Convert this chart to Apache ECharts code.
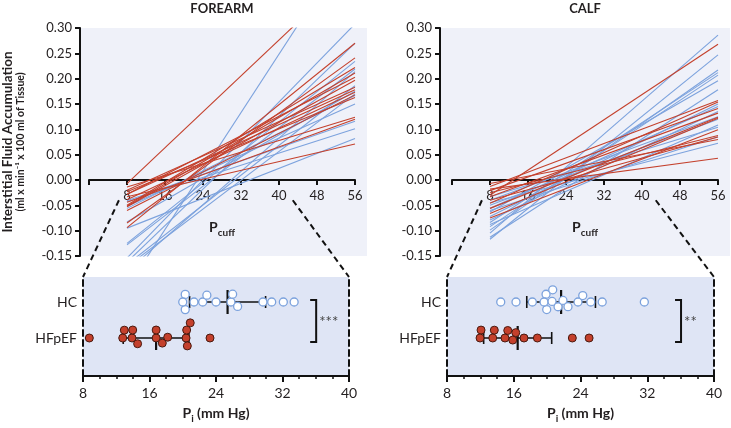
<!DOCTYPE html>
<html>
<head>
<meta charset="utf-8">
<script src="https://cdn.jsdelivr.net/npm/echarts@6/dist/echarts.min.js"></script>
<style>
html,body{margin:0;padding:0;background:#fff}
#chart{width:731px;height:428px}
</style>
</head>
<body>
<div id="chart"></div>
<script>
// regression lines: value at P=8 and at P=56
var lineX = [8, 56];

var faHcStart = [-0.213, -0.154, -0.162, -0.125, -0.128, -0.180, -0.167, -0.171, -0.056, -0.052, -0.041, -0.083, -0.043, -0.095];
var faHcEnd   = [0.479, 0.308, 0.270, 0.234, 0.219, 0.214, 0.186, 0.170, 0.167, 0.150, 0.116, 0.175, 0.101, 0.082];
var faHfStart = [-0.007, -0.020, -0.014, -0.028, -0.023, -0.028, -0.039, -0.050, -0.052, -0.053, -0.094, -0.085, -0.060, -0.044, -0.033];
var faHfEnd   = [0.418, 0.183, 0.124, 0.203, 0.163, 0.178, 0.173, 0.222, 0.211, 0.197, 0.270, 0.241, 0.168, 0.120, 0.071];

var cfHcStart = [-0.105, -0.117, -0.099, -0.084, -0.092, -0.063, -0.113, -0.072, -0.056, -0.079, -0.040, -0.050, -0.088, -0.033, -0.060, -0.045];
var cfHcEnd   = [0.286, 0.247, 0.217, 0.212, 0.207, 0.196, 0.178, 0.150, 0.145, 0.135, 0.125, 0.120, 0.1085, 0.104, 0.0855, 0.0724];
var cfHfStart = [-0.030, -0.013, -0.046, -0.021, -0.033, -0.056, -0.066, -0.075, -0.025, -0.040, -0.007, -0.018];
var cfHfEnd   = [0.268, 0.157, 0.154, 0.141, 0.132, 0.124, 0.122, 0.099, 0.088, 0.085, 0.080, 0.043];

// Pi (mm Hg) per subject
var faHcPi = [20.3, 20.3, 20.0, 21.35, 22.4, 22.9, 24.0, 25.8, 26.0, 26.6, 29.65, 30.7, 32.1, 33.4];
var faHfPi = [8.76, 12.78, 12.97, 13.9, 13.98, 14.57, 16.8, 16.8, 17.54, 18.19, 20.4, 20.47, 20.55, 20.9, 23.28];
var cfHcPi = [14.44, 16.27, 18.23, 19.87, 19.95, 19.63, 20.59, 20.67, 21.31, 21.9, 22.5, 23.7, 24.27, 25.23, 26.6, 31.65];
var cfHfPi = [12.08, 13.67, 15.28, 16.24, 17.23, 18.83, 23.02, 25.03, 11.96, 13.48, 14.95, 15.88];

var groupNames = ['HFpEF', 'HC'];
var faStars = '***';
var cfStars = '**';

var RED = '#c4402c', BLUE = '#7ca2dd', INK = '#231f20';
var FONT = 'Lato';
var ROW_PX = 36;
var DOT_MIN = -38 / ROW_PX, DOT_MAX = 1 + 25 / ROW_PX;
var PX_PER_UNIT = 266 / 32;
var DOT = 8;

var dom = document.getElementById('chart');
var myChart = echarts.init(dom);

// simple beeswarm: offsets (px) so dots don't overlap
function swarm(vals){
    var placed = [];
    var offs = [];
    var order = vals.map(function(v, i){ return i; }).sort(function(a, b){ return vals[a] - vals[b]; });
    order.forEach(function(i){
        var x = vals[i] * PX_PER_UNIT;
        var cands = [0];
        placed.forEach(function(p){
            var dx = x - p.x;
            if(Math.abs(dx) < DOT){
                var h = Math.sqrt(DOT * DOT - dx * dx);
                cands.push(p.y - h, p.y + h);
            }
        });
        cands.sort(function(a, b){ return Math.abs(a) - Math.abs(b) || a - b; });
        var y = 0;
        for(var k = 0; k < cands.length; k++){
            var ok = placed.every(function(p){
                var dx = x - p.x, dy = cands[k] - p.y;
                return dx * dx + dy * dy >= DOT * DOT - 0.01;
            });
            if(ok){ y = cands[k]; break; }
        }
        placed.push({x: x, y: y});
        offs[i] = y;
    });
    return offs;
}

function dotData(vals, row){
    var offs = swarm(vals);
    return vals.map(function(v, i){ return [v, row - offs[i] / ROW_PX]; });
}

function stats(vals){
    var n = vals.length;
    var m = vals.reduce(function(a, b){ return a + b; }, 0) / n;
    var ss = vals.reduce(function(a, v){ return a + (v - m) * (v - m); }, 0);
    return [m, Math.sqrt(ss / (n - 1))];
}

function lineSeries(starts, ends, color, idx){
    return starts.map(function(s, i){
        return {
            type: 'line',
            xAxisIndex: idx, yAxisIndex: idx,
            data: [[lineX[0], s], [lineX[1], ends[i]]],
            symbol: 'none',
            silent: true,
            clip: true,
            lineStyle: {color: color, width: 1.1}
        };
    });
}

function statSeries(hc, hf, idx){
    var a = stats(hf), b = stats(hc);
    return {
        type: 'custom',
        xAxisIndex: idx, yAxisIndex: idx,
        z: 2,
        silent: true,
        data: [[a[0], a[1], 0], [b[0], b[1], 1]],
        renderItem: function(params, api){
            var m = api.value(0), sd = api.value(1), r = api.value(2);
            var c = api.coord([m, r]);
            var l = api.coord([m - sd, r]);
            var rr = api.coord([m + sd, r]);
            var st = {stroke: '#111', lineWidth: 1.6};
            return {
                type: 'group',
                children: [
                    {type: 'line', shape: {x1: l[0], y1: c[1], x2: rr[0], y2: c[1]}, style: st},
                    {type: 'line', shape: {x1: l[0], y1: c[1] - 6, x2: l[0], y2: c[1] + 6}, style: st},
                    {type: 'line', shape: {x1: rr[0], y1: c[1] - 6, x2: rr[0], y2: c[1] + 6}, style: st},
                    {type: 'line', shape: {x1: c[0], y1: c[1] - 12, x2: c[0], y2: c[1] + 12}, style: {stroke: '#111', lineWidth: 2.2}}
                ]
            };
        }
    };
}

function bracketSeries(stars, idx){
    return {
        type: 'custom',
        xAxisIndex: idx, yAxisIndex: idx,
        silent: true,
        z: 4,
        data: [[36.05]],
        renderItem: function(params, api){
            var bx = api.value(0);
            var t = api.coord([bx, 1]), b = api.coord([bx, 0]);
            var x = t[0], y1 = t[1] - 2, y2 = b[1] + 4;
            return {
                type: 'group',
                children: [
                    {type: 'polyline', shape: {points: [[x - 6, y1], [x, y1], [x, y2], [x - 6, y2]]},
                     style: {stroke: '#111', lineWidth: 2, fill: null}},
                    {type: 'text', x: x + 3, y: (y1 + y2) / 2 + 1,
                     style: {text: stars, fill: '#444', fontSize: 15, fontFamily: FONT, align: 'left', verticalAlign: 'middle'}}
                ]
            };
        }
    };
}

function dotSeries(hc, hf, idx){
    return [{
        type: 'scatter', xAxisIndex: idx, yAxisIndex: idx, z: 3, silent: true,
        symbol: 'circle', symbolSize: DOT,
        itemStyle: {color: '#fff', borderColor: BLUE, borderWidth: 1.3, opacity: 1},
        data: dotData(hc, 1)
    }, {
        type: 'scatter', xAxisIndex: idx, yAxisIndex: idx, z: 3, silent: true,
        symbol: 'circle', symbolSize: DOT,
        itemStyle: {color: RED, borderColor: '#4a1a10', borderWidth: 1, opacity: 1},
        data: dotData(hf, 0)
    }];
}

var axisInk = {color: '#111', width: 2};
var dashInk = {color: '#111', width: 2, type: [6, 4]};
var subRich = {
    p: {fontSize: 14, fontWeight: 'bold', fontFamily: FONT, color: INK, padding: [0, 0, 4, 0], verticalAlign: 'bottom'},
    s: {fontSize: 10, fontWeight: 'bold', fontFamily: FONT, color: INK, verticalAlign: 'bottom'}
};

function bgX(g){ return {gridIndex: g, type: 'value', min: 0, max: 1, show: false}; }
function bgY(g){
    return {
        gridIndex: g, type: 'value', min: -0.15, max: 0.30, interval: 0.05,
        axisLine: {show: true, onZero: false, lineStyle: axisInk},
        axisTick: {show: true, length: 5, lineStyle: axisInk},
        axisLabel: {fontSize: 13, fontFamily: FONT, color: INK, margin: 8,
            formatter: function(v){ return Math.abs(v) < 1e-9 ? '0.00' : v.toFixed(2); }},
        splitLine: {show: false}
    };
}
// lines grid: full panel height, axes hidden
function lineX_(g){ return {gridIndex: g, type: 'value', min: 0, max: 56, show: false}; }
function lineY_(g){ return {gridIndex: g, type: 'value', min: -0.15, max: 0.30, show: false}; }
// Pcuff axis grid: bottom edge sits on y = 0
function cuffX(g){
    return {
        gridIndex: g, type: 'value', min: 0, max: 56, interval: 8,
        axisLine: {onZero: false, lineStyle: axisInk},
        axisTick: {length: 5, lineStyle: axisInk},
        axisLabel: {fontSize: 13, fontFamily: FONT, color: INK, margin: 9,
            formatter: function(v){ return v === 0 ? '' : v; }},
        splitLine: {show: false},
        name: '{p|P}{s|cuff}', nameLocation: 'middle', nameGap: 40,
        nameTextStyle: {rich: subRich}
    };
}
function cuffY(g){ return {gridIndex: g, type: 'value', min: 0, max: 0.30, show: false}; }
function piX(g){
    return {
        gridIndex: g, type: 'value', min: 8, max: 40, interval: 8,
        axisLine: {onZero: false, lineStyle: axisInk},
        axisTick: {length: 6, lineStyle: axisInk},
        minorTick: {show: true, splitNumber: 4, length: 3, lineStyle: {color: '#111', width: 1.5}},
        axisLabel: {fontSize: 14, fontFamily: FONT, color: INK, margin: 10},
        splitLine: {show: false},
        name: '{p|P}{s|i}{p| (mm Hg)}', nameLocation: 'middle', nameGap: 30,
        nameTextStyle: {rich: subRich}
    };
}
function piY(g){
    return {
        gridIndex: g, type: 'value', min: DOT_MIN, max: DOT_MAX,
        axisLine: {show: true, onZero: false, lineStyle: dashInk},
        axisTick: {show: false},
        axisLabel: {fontSize: 14, fontFamily: FONT, color: INK, margin: 6,
            customValues: [0, 1],
            formatter: function(v){ return Math.abs(v - 1) < 1e-6 ? groupNames[1] : (Math.abs(v) < 1e-6 ? groupNames[0] : ''); }},
        splitLine: {show: false}
    };
}
function piYRight(g){
    return {
        gridIndex: g, type: 'value', min: DOT_MIN, max: DOT_MAX, position: 'right',
        axisLine: {show: true, onZero: false, lineStyle: dashInk},
        axisTick: {show: false}, axisLabel: {show: false}, splitLine: {show: false}
    };
}

var series = []
    .concat(lineSeries(faHcStart, faHcEnd, BLUE, 1))
    .concat(lineSeries(faHfStart, faHfEnd, RED, 1))
    .concat(lineSeries(cfHcStart, cfHcEnd, BLUE, 4))
    .concat(lineSeries(cfHfStart, cfHfEnd, RED, 4))
    .concat([statSeries(faHcPi, faHfPi, 2), statSeries(cfHcPi, cfHfPi, 5)])
    .concat(dotSeries(faHcPi, faHfPi, 2))
    .concat(dotSeries(cfHcPi, cfHfPi, 5))
    .concat([bracketSeries(faStars, 2), bracketSeries(cfStars, 5)]);

var option = {
    animation: false,
    backgroundColor: '#fff',
    textStyle: {fontFamily: FONT},
    grid: [
        {left: 80, top: 28, width: 287, height: 228, show: true, backgroundColor: '#eff1f9', borderWidth: 0},
        {left: 89, top: 28, width: 266, height: 228},
        {left: 83, top: 277, width: 266, height: 99, show: true, backgroundColor: '#dfe5f5', borderWidth: 0},
        {left: 440, top: 28, width: 290, height: 228, show: true, backgroundColor: '#eff1f9', borderWidth: 0},
        {left: 452, top: 28, width: 266, height: 228},
        {left: 447, top: 277, width: 267, height: 99, show: true, backgroundColor: '#dfe5f5', borderWidth: 0},
        {left: 89, top: 28, width: 266, height: 152},
        {left: 452, top: 28, width: 266, height: 152}
    ],
    xAxis: [bgX(0), lineX_(1), piX(2), bgX(3), lineX_(4), piX(5), cuffX(6), cuffX(7)],
    yAxis: [bgY(0), lineY_(1), piY(2), bgY(3), lineY_(4), piY(5), cuffY(6), cuffY(7), piYRight(2), piYRight(5)],
    series: series
};

myChart.setOption(option);

// zoom connectors and titles
function connectors(topIdx, botIdx){
    var a = myChart.convertToPixel({gridIndex: topIdx}, [6.3, -0.04]);
    var b = myChart.convertToPixel({gridIndex: botIdx}, [8, DOT_MAX]);
    var c = myChart.convertToPixel({gridIndex: topIdx}, [42.9, -0.04]);
    var d = myChart.convertToPixel({gridIndex: botIdx}, [40, DOT_MAX]);
    var st = {stroke: '#111', lineWidth: 2, lineDash: [6, 4]};
    return [
        {type: 'line', shape: {x1: a[0], y1: a[1], x2: b[0], y2: b[1]}, style: st, silent: true},
        {type: 'line', shape: {x1: c[0], y1: c[1], x2: d[0], y2: d[1]}, style: st, silent: true}
    ];
}

var graphics = connectors(1, 2).concat(connectors(4, 5)).concat([
    {type: 'text', x: 222, y: 9, silent: true,
     style: {text: 'FOREARM', fontSize: 13, fontWeight: 'bold', fontFamily: FONT, fill: INK, align: 'center', verticalAlign: 'middle'}},
    {type: 'text', x: 585, y: 9, silent: true,
     style: {text: 'CALF', fontSize: 13, fontWeight: 'bold', fontFamily: FONT, fill: INK, align: 'center', verticalAlign: 'middle'}},
    {type: 'text', x: 8, y: 142, rotation: Math.PI / 2, silent: true,
     style: {text: 'Interstitial Fluid Accumulation', fontSize: 13.5, fontWeight: 'bold', fontFamily: FONT, fill: INK, align: 'center', verticalAlign: 'middle'}},
    {type: 'text', x: 21, y: 142, rotation: Math.PI / 2, silent: true,
     style: {text: '(ml x min\u207B\u00B9 x 100 ml of Tissue)', fontSize: 10.5, fontWeight: 'bold', fontFamily: FONT, fill: INK, align: 'center', verticalAlign: 'middle'}}
]);

myChart.setOption({graphic: graphics});

window.addEventListener('resize', function(){
    myChart.resize();
});
</script>
</body>
</html>
